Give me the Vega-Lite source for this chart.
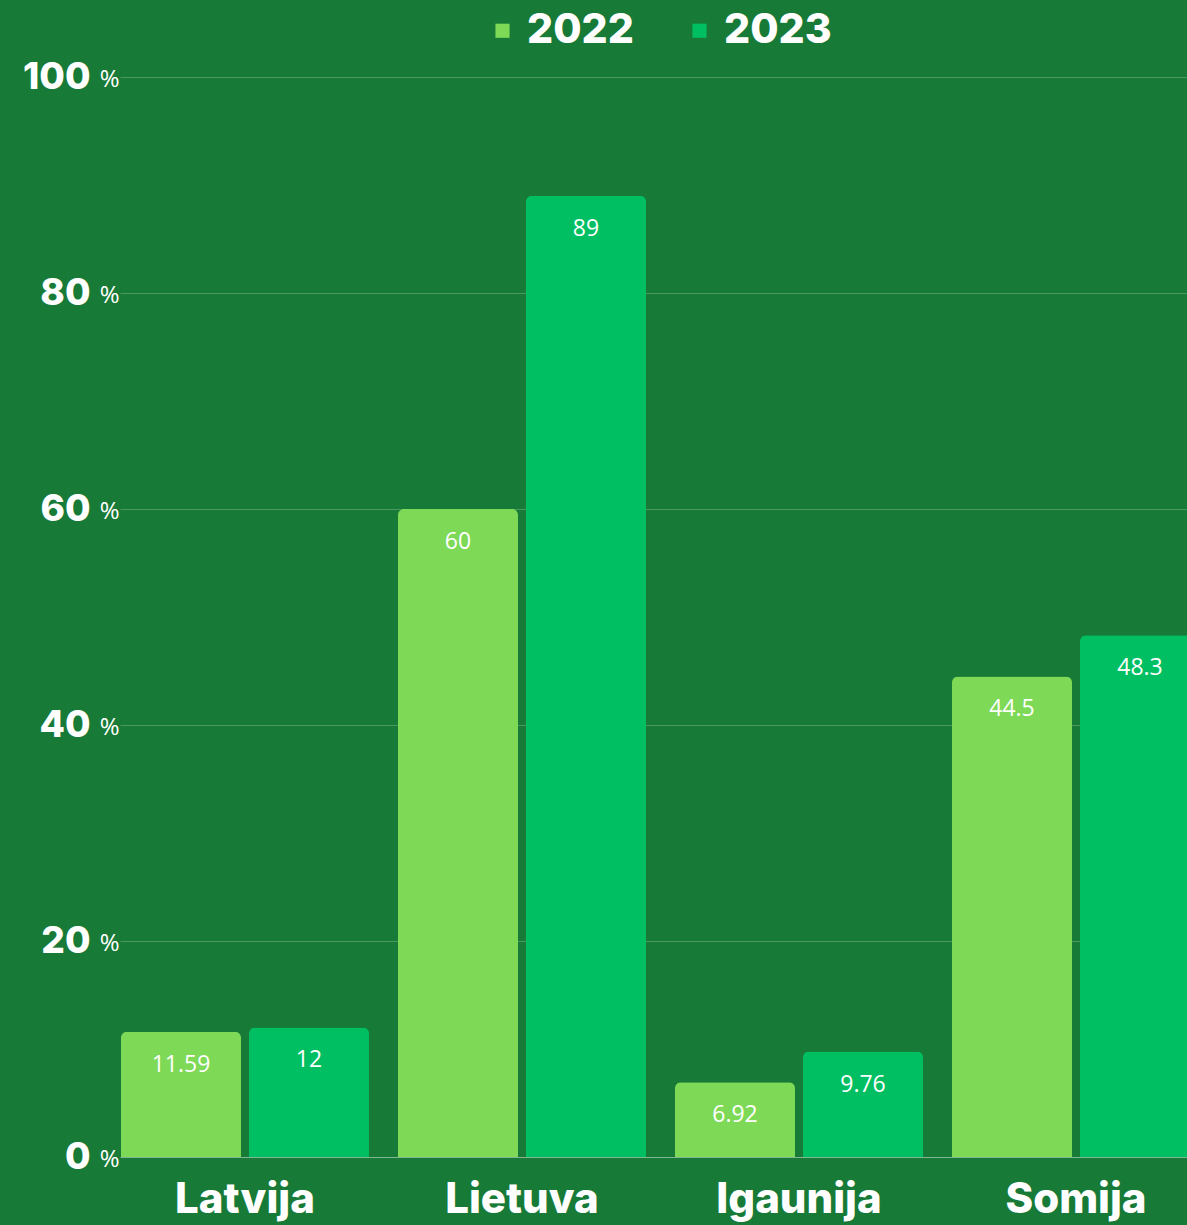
{
  "$schema": "https://vega.github.io/schema/vega-lite/v6.json",
  "width": 1067,
  "height": 1080,
  "autosize": "none",
  "padding": {"left": 120, "top": 77, "right": 0, "bottom": 68},
  "background": "#187a37",
  "config": {"view": {"stroke": null}},
  "data": {
    "values": [
      {"country": "Latvija", "year": "2022", "value": 11.59},
      {"country": "Latvija", "year": "2023", "value": 12},
      {"country": "Lietuva", "year": "2022", "value": 60},
      {"country": "Lietuva", "year": "2023", "value": 89},
      {"country": "Igaunija", "year": "2022", "value": 6.92},
      {"country": "Igaunija", "year": "2023", "value": 9.76},
      {"country": "Somija", "year": "2022", "value": 44.5},
      {"country": "Somija", "year": "2023", "value": 48.3}
    ]
  },
  "encoding": {
    "x": {
      "field": "country",
      "type": "nominal",
      "sort": ["Latvija", "Lietuva", "Igaunija", "Somija"],
      "scale": {"range": [0, 1081], "paddingInner": 0.1047, "paddingOuter": 0.0036},
      "axis": {
        "title": null,
        "labelAngle": 0,
        "labelFont": "Inter",
        "labelFontWeight": 800,
        "labelFontSize": 42,
        "labelColor": "white",
        "labelPadding": 22,
        "labelBaseline": "top",
        "ticks": false,
        "domainColor": "#ffffff",
        "domainOpacity": 0.3
      }
    },
    "xOffset": {
      "field": "year",
      "type": "nominal",
      "scale": {"paddingInner": 0.0625, "paddingOuter": 0}
    }
  },
  "layer": [
    {
      "mark": {"type": "bar", "cornerRadiusTopLeft": 6, "cornerRadiusTopRight": 6},
      "encoding": {
        "y": {
          "field": "value",
          "type": "quantitative",
          "scale": {"domain": [0, 100], "nice": false},
          "axis": {
            "title": null,
            "orient": "left",
            "values": [0, 20, 40, 60, 80, 100],
            "labelFont": "Inter",
            "labelFontWeight": 800,
            "labelFontSize": 37,
            "labelColor": "white",
            "labelPadding": 30,
            "ticks": false,
            "domain": false,
            "gridColor": "#ffffff",
            "gridOpacity": 0.22
          }
        },
        "color": {
          "field": "year",
          "type": "nominal",
          "scale": {"domain": ["2022", "2023"], "range": ["#7ed957", "#00bf63"]},
          "legend": {
            "orient": "none",
            "legendX": 362,
            "legendY": -67,
            "direction": "horizontal",
            "title": null,
            "symbolType": "square",
            "symbolSize": 200,
            "symbolStrokeWidth": 0,
            "labelFont": "Inter",
            "labelFontWeight": 800,
            "labelFontSize": 41,
            "labelColor": "white",
            "labelOffset": 4,
            "columnPadding": 45
          }
        }
      }
    },
    {
      "mark": {"type": "text", "color": "white", "font": "Open Sans", "fontSize": 23, "baseline": "middle", "dy": 33},
      "encoding": {
        "y": {
          "field": "value",
          "type": "quantitative",
          "scale": {"domain": [0, 100], "nice": false},
          "axis": {
            "title": null,
            "orient": "left",
            "values": [0, 20, 40, 60, 80, 100],
            "labelExpr": "'%'",
            "labelFont": "Open Sans",
            "labelFontSize": 24,
            "labelColor": "white",
            "labelPadding": 1,
            "labelBaseline": "top",
            "labelOffset": -10,
            "ticks": false,
            "domain": false,
            "grid": false
          }
        },
        "text": {"field": "value", "type": "nominal"}
      }
    }
  ],
  "resolve": {"axis": {"y": "independent"}}
}
